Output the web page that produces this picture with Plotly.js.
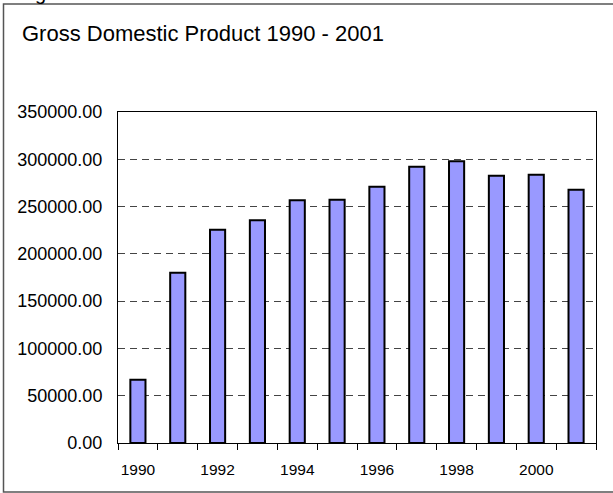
<!DOCTYPE html>
<html>
<head>
<meta charset="utf-8">
<script src="https://cdn.plot.ly/plotly-3.0.1.min.js"></script>
<style>html,body{margin:0;padding:0;background:#fff;}#chart{width:613px;height:493px;}</style>
</head>
<body>
<div id="chart"></div>
<script>
const years = [1990, 1991, 1992, 1993, 1994, 1995, 1996, 1997, 1998, 1999, 2000, 2001];
const gdp = [67000, 180000, 225500, 235500, 256800, 257200, 271000, 292000, 298000, 282500, 283600, 267700];
const xTickVals = [1990, 1992, 1994, 1996, 1998, 2000];
const xTickText = ['1990', '1992', '1994', '1996', '1998', '2000'];
const titleText = 'Gross Domestic Product 1990 - 2001';

const W = 613, H = 493;
const mL = 118, mR = 17, mT = 112, mB = 50;
const pw = W - mL - mR, ph = H - mT - mB;
const px2x = p => (p - mL) / pw;
const py2y = p => (H - mB - p) / ph;

const FONT = 'Liberation Sans, Arial, sans-serif';

const trace = {
  type: 'bar',
  x: years,
  y: gdp,
  width: 0.38,
  marker: {color: '#9999FF', line: {color: '#000000', width: 2}},
  hoverinfo: 'x+y'
};

const layout = {
  width: W, height: H,
  margin: {l: mL, r: mR, t: mT, b: mB, pad: 0},
  paper_bgcolor: '#ffffff',
  plot_bgcolor: '#ffffff',
  showlegend: false,
  font: {family: FONT, color: '#000'},
  title: {
    text: titleText,
    font: {family: FONT, size: 22, color: '#000'},
    xref: 'container', yref: 'container',
    x: 22 / W, xanchor: 'left',
    y: 1 - 33 / H, yanchor: 'middle'
  },
  xaxis: {
    type: 'linear',
    range: [1989.5, 2001.5],
    tickmode: 'array',
    tickvals: xTickVals,
    ticktext: xTickText,
    ticks: '',
    tickfont: {family: FONT, size: 15.5, color: '#000'},
    ticklabelstandoff: 12,
    showgrid: false,
    zeroline: false,
    showline: true,
    linecolor: '#000',
    linewidth: 1,
    mirror: true,
    minor: {
      tick0: 1989.5, dtick: 1,
      ticks: 'outside', ticklen: 6, tickwidth: 1, tickcolor: '#000',
      showgrid: false
    },
    fixedrange: true
  },
  yaxis: {
    range: [0, 350000],
    tick0: 0, dtick: 50000,
    tickformat: '.2f',
    ticks: '',
    tickfont: {family: FONT, size: 18, color: '#000'},
    ticklabelstandoff: 11,
    showgrid: true,
    gridcolor: '#444',
    gridwidth: 1,
    griddash: '7px,5px',
    zeroline: false,
    showline: true,
    linecolor: '#000',
    linewidth: 1,
    mirror: true,
    fixedrange: true
  },
  shapes: [{
    type: 'rect', xref: 'paper', yref: 'paper', layer: 'below',
    x0: px2x(3.5), x1: px2x(616), y0: py2y(4), y1: py2y(492),
    line: {color: '#555', width: 1.5}, fillcolor: 'rgba(0,0,0,0)'
  }],
  annotations: [{
    text: 'g', showarrow: false,
    xref: 'paper', yref: 'paper',
    x: px2x(33), xanchor: 'left',
    y: py2y(6), yanchor: 'bottom',
    font: {family: FONT, size: 20, color: '#000'}
  }]
};

Plotly.newPlot('chart', [trace], layout, {displayModeBar: false, staticPlot: true});
</script>
</body>
</html>
